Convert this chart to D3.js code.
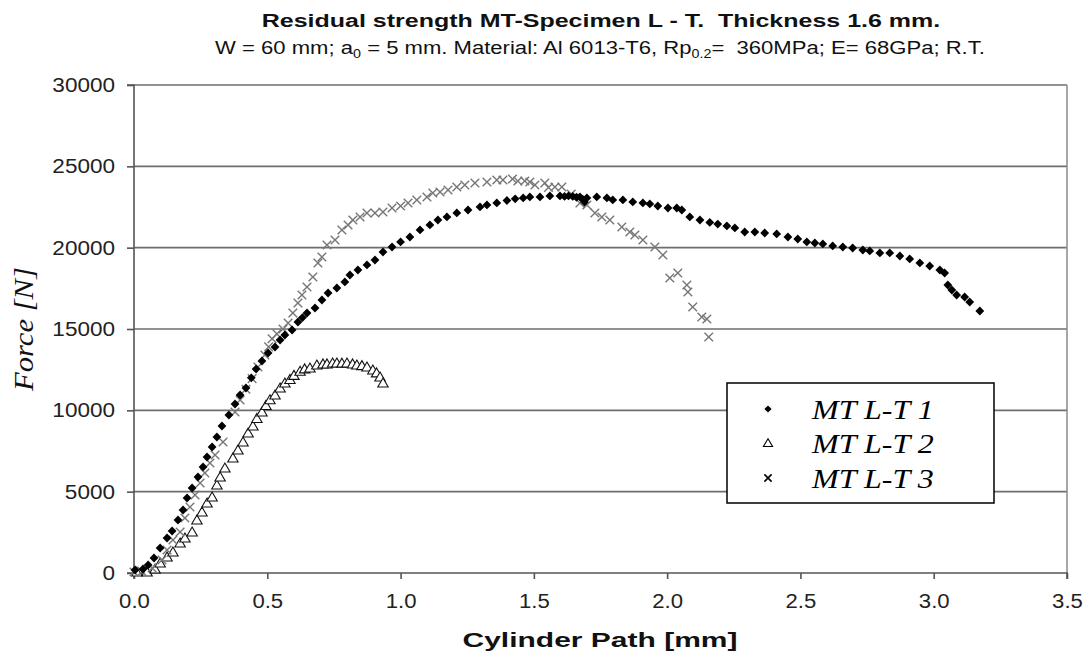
<!DOCTYPE html>
<html><head><meta charset="utf-8">
<script src="https://cdn.jsdelivr.net/npm/d3@7/dist/d3.min.js"></script>
<style>body{margin:0;background:#fff}svg{display:block}</style>
</head><body>
<svg id="c" width="1090" height="661"></svg>
<script>
const xTicks = [0,0.5,1.0,1.5,2.0,2.5,3.0,3.5];
const yTicks = [0,5000,10000,15000,20000,25000,30000];
const seriesNames = ["MT L-T 1","MT L-T 2","MT L-T 3"];

const series1 = [[0.004,185],[0.034,246],[0.053,492],[0.075,922],[0.098,1537],[0.124,2152],[0.143,2582],[0.165,3258],[0.184,3873],[0.199,4611],[0.218,5226],[0.240,5902],[0.259,6517],[0.274,7132],[0.293,7746],[0.311,8361],[0.330,9037],[0.356,9714],[0.379,10390],[0.398,10943],[0.420,11374],[0.440,12000],[0.458,12542],[0.480,13034],[0.503,13526],[0.529,13894],[0.548,14325],[0.566,14632],[0.593,14940],[0.615,15431],[0.632,15700],[0.649,15985],[0.679,16292],[0.705,16784],[0.728,17214],[0.761,17522],[0.791,17891],[0.810,18321],[0.840,18628],[0.874,18936],[0.904,19243],[0.934,19735],[0.968,20042],[1.0,20350],[1.035,20657],[1.073,21088],[1.110,21395],[1.140,21702],[1.174,21887],[1.211,22133],[1.253,22317],[1.298,22502],[1.324,22625],[1.361,22748],[1.399,22900],[1.430,23000],[1.460,23055],[1.485,23117],[1.523,23117],[1.560,23178],[1.598,23178],[1.615,23150],[1.630,23178],[1.646,23150],[1.660,23100],[1.673,23117],[1.685,22950],[1.690,22800],[1.699,23055],[1.736,23117],[1.774,23055],[1.796,22932],[1.834,22932],[1.871,22810],[1.909,22748],[1.935,22687],[1.965,22563],[2.003,22440],[2.036,22440],[2.055,22317],[2.085,21887],[2.123,21700],[2.160,21550],[2.190,21450],[2.224,21334],[2.254,21211],[2.291,20964],[2.329,20964],[2.366,20903],[2.411,20842],[2.453,20657],[2.490,20534],[2.524,20350],[2.554,20288],[2.584,20227],[2.621,20104],[2.659,20042],[2.696,19981],[2.734,19858],[2.760,19797],[2.798,19674],[2.835,19674],[2.873,19489],[2.910,19305],[2.948,19059],[2.985,18874],[3.023,18628],[3.041,18444],[3.053,17706],[3.068,17399],[3.086,17091],[3.116,16968],[3.135,16661],[3.173,16107]];

const series2 = [[0.011,61],[0.049,61],[0.079,246],[0.098,615],[0.124,984],[0.146,1291],[0.173,1844],[0.191,2152],[0.218,2521],[0.236,3258],[0.255,3750],[0.274,4304],[0.293,4673],[0.311,5410],[0.323,5902],[0.341,6455],[0.371,7070],[0.390,7562],[0.409,8054],[0.428,8607],[0.446,9037],[0.461,9500],[0.480,9898],[0.495,10300],[0.510,10650],[0.529,10943],[0.548,11374],[0.566,11681],[0.585,11900],[0.600,12150],[0.623,12400],[0.640,12550],[0.660,12604],[0.686,12788],[0.709,12850],[0.724,12850],[0.745,12911],[0.761,12911],[0.780,12900],[0.799,12911],[0.820,12850],[0.836,12788],[0.855,12750],[0.874,12665],[0.896,12480],[0.910,12300],[0.923,12050],[0.934,11681]];

const series3 = [[0.0,61],[0.03,100],[0.068,307],[0.105,800],[0.124,1414],[0.146,2029],[0.173,2521],[0.191,3381],[0.210,4058],[0.229,4796],[0.248,5533],[0.266,6148],[0.285,6763],[0.304,7255],[0.334,8054],[0.379,9898],[0.398,10636],[0.420,11300],[0.443,11950],[0.465,12665],[0.491,13403],[0.505,13900],[0.518,14400],[0.536,14700],[0.559,15000],[0.578,15370],[0.596,15985],[0.615,16600],[0.630,17091],[0.649,17583],[0.671,18198],[0.690,19059],[0.705,19428],[0.724,20165],[0.754,20473],[0.780,21088],[0.803,21395],[0.821,21702],[0.848,21887],[0.874,22133],[0.904,22133],[0.934,22194],[0.968,22440],[1.0,22563],[1.028,22748],[1.061,22932],[1.099,23117],[1.121,23363],[1.148,23424],[1.178,23547],[1.211,23732],[1.241,23855],[1.279,23978],[1.324,24039],[1.361,24162],[1.384,24162],[1.420,24224],[1.440,24101],[1.466,24101],[1.485,24039],[1.504,23855],[1.541,23978],[1.555,23700],[1.579,23732],[1.605,23732],[1.640,23300],[1.673,22748],[1.699,22625],[1.729,22133],[1.755,21887],[1.785,21702],[1.830,21272],[1.860,20965],[1.879,20780],[1.909,20473],[1.954,20042],[1.984,19551],[2.010,18136],[2.040,18444],[2.074,17706],[2.078,17276],[2.096,16354],[2.130,15739],[2.149,15616],[2.156,14509]];

const svg = d3.select("#c");
const L = 134, R = 1067, T = 85, B = 573;
const x = d3.scaleLinear().domain([0,3.5]).range([L,R]);
const y = d3.scaleLinear().domain([0,30000]).range([B,T]);

// stretch a horizontal text to a target width around an anchor x
function fitWidth(sel, target, ax) {
  const w = sel.node().getBBox().width;
  const s = target / w;
  sel.attr("transform", `translate(${ax},0) scale(${s},1) translate(${-ax},0)`);
}

// gridlines
svg.append("g").selectAll("line").data(yTicks.filter(d=>d>0)).join("line")
  .attr("x1",L).attr("x2",R).attr("y1",d=>y(d)).attr("y2",d=>y(d))
  .attr("stroke","#6e6e6e").attr("stroke-width",1.6);
// right border
svg.append("line").attr("x1",R).attr("x2",R).attr("y1",T).attr("y2",B)
  .attr("stroke","#8a8a8a").attr("stroke-width",1.5);

const tickFont = "Arial, 'Liberation Sans', sans-serif";
const yAxis = svg.append("g").attr("transform",`translate(${L},0)`)
  .call(d3.axisLeft(y).tickValues(yTicks).tickSize(7).tickPadding(12).tickFormat(d3.format("d")));
const xAxis = svg.append("g").attr("transform",`translate(0,${B})`)
  .call(d3.axisBottom(x).tickValues(xTicks).tickSize(6).tickPadding(14).tickFormat(d3.format(".1f")));
[yAxis,xAxis].forEach(g=>{
  g.select(".domain").attr("stroke","#555").attr("stroke-width",1.6);
  g.selectAll(".tick line").attr("stroke","#555").attr("stroke-width",1.6);
  g.selectAll(".tick text").attr("font-family",tickFont).attr("font-size",20.5).attr("fill","#222");
});
yAxis.selectAll(".tick text").attr("transform","translate(-19,0) scale(1.1,1) translate(19,0)");
xAxis.selectAll(".tick text").attr("transform","scale(1.08,1)");
yAxis.select(".domain").attr("d",`M-7,${T}H0V${B}H-7`);
xAxis.select(".domain").attr("d",`M${L},6V0H${R}V6`);

// markers
const diamond = "M0,-4.4L4.4,0L0,4.4L-4.4,0Z";
const tri = "M0,-5L5.2,4L-5.2,4Z";
const cross = "M-4.3,-4.3L4.3,4.3M-4.3,4.3L4.3,-4.3";

const g = svg.append("g");
g.selectAll(".s2").data(series2).join("path").attr("class","s2")
  .attr("transform",d=>`translate(${x(d[0])},${y(d[1])})`).attr("d",tri)
  .attr("fill","#fff").attr("stroke","#111").attr("stroke-width",1.1);
g.selectAll(".s3").data(series3).join("path").attr("class","s3")
  .attr("transform",d=>`translate(${x(d[0])},${y(d[1])})`).attr("d",cross)
  .attr("fill","none").attr("stroke","#777").attr("stroke-width",1.4);
g.selectAll(".s1").data(series1).join("path").attr("class","s1")
  .attr("transform",d=>`translate(${x(d[0])},${y(d[1])})`).attr("d",diamond)
  .attr("fill","#000");

// legend
const lg = svg.append("g");
lg.append("rect").attr("x",727).attr("y",383).attr("width",267).attr("height",120)
  .attr("fill","#fff").attr("stroke","#000").attr("stroke-width",1.5);
const rows = [409,443,478];
const legMarks = [
  {d:"M0,-3.6L3.6,0L0,3.6L-3.6,0Z",fill:"#000",stroke:"none",sw:0},
  {d:"M0,-4.2L4.6,3.5L-4.6,3.5Z",fill:"#fff",stroke:"#000",sw:1.1},
  {d:"M-3.6,-3.6L3.6,3.6M-3.6,3.6L3.6,-3.6",fill:"none",stroke:"#000",sw:1.6}
];
seriesNames.forEach((n,i)=>{
  lg.append("path").attr("transform",`translate(768,${rows[i]})`).attr("d",legMarks[i].d)
    .attr("fill",legMarks[i].fill).attr("stroke",legMarks[i].stroke).attr("stroke-width",legMarks[i].sw);
  const t = lg.append("text").attr("x",812).attr("y",rows[i]).attr("dy","0.35em")
    .attr("font-family","'Liberation Serif','Times New Roman',serif").attr("font-style","italic")
    .attr("font-size",28).attr("fill","#000").attr("xml:space","preserve").text(n);
  fitWidth(t, 123, 812);
});

// titles
const t1 = svg.append("text").attr("x",601).attr("y",27).attr("text-anchor","middle")
  .attr("font-family",tickFont).attr("font-weight","bold").attr("font-size",19).attr("fill","#111")
  .attr("xml:space","preserve").text("Residual strength MT-Specimen L - T.  Thickness 1.6 mm.");
fitWidth(t1, 679, 601);
const st = svg.append("text").attr("x",600).attr("y",54).attr("text-anchor","middle")
  .attr("font-family",tickFont).attr("font-size",18.5).attr("fill","#111").attr("xml:space","preserve");
st.append("tspan").text("W = 60 mm; a");
st.append("tspan").attr("font-size",12).attr("dy",4).text("0");
st.append("tspan").attr("dy",-4).text(" = 5 mm. Material: Al 6013-T6, Rp");
st.append("tspan").attr("font-size",12).attr("dy",4).text("0.2");
st.append("tspan").attr("dy",-4).text("=  360MPa; E= 68GPa; R.T.");
fitWidth(st, 770, 600);

const xt = svg.append("text").attr("x",600).attr("y",647).attr("text-anchor","middle")
  .attr("font-family",tickFont).attr("font-weight","bold").attr("font-size",20).attr("fill","#111")
  .text("Cylinder Path [mm]");
fitWidth(xt, 275, 600);
const yt = svg.append("text").attr("x",0).attr("y",0).attr("text-anchor","middle")
  .attr("font-family","'Liberation Serif','Times New Roman',serif").attr("font-style","italic")
  .attr("font-size",28).attr("fill","#111").text("Force [N]");
const yw = yt.node().getBBox().width;
yt.attr("transform",`translate(33,${(T+B)/2}) rotate(-90) scale(${125/yw},1)`);
</script>
</body></html>
